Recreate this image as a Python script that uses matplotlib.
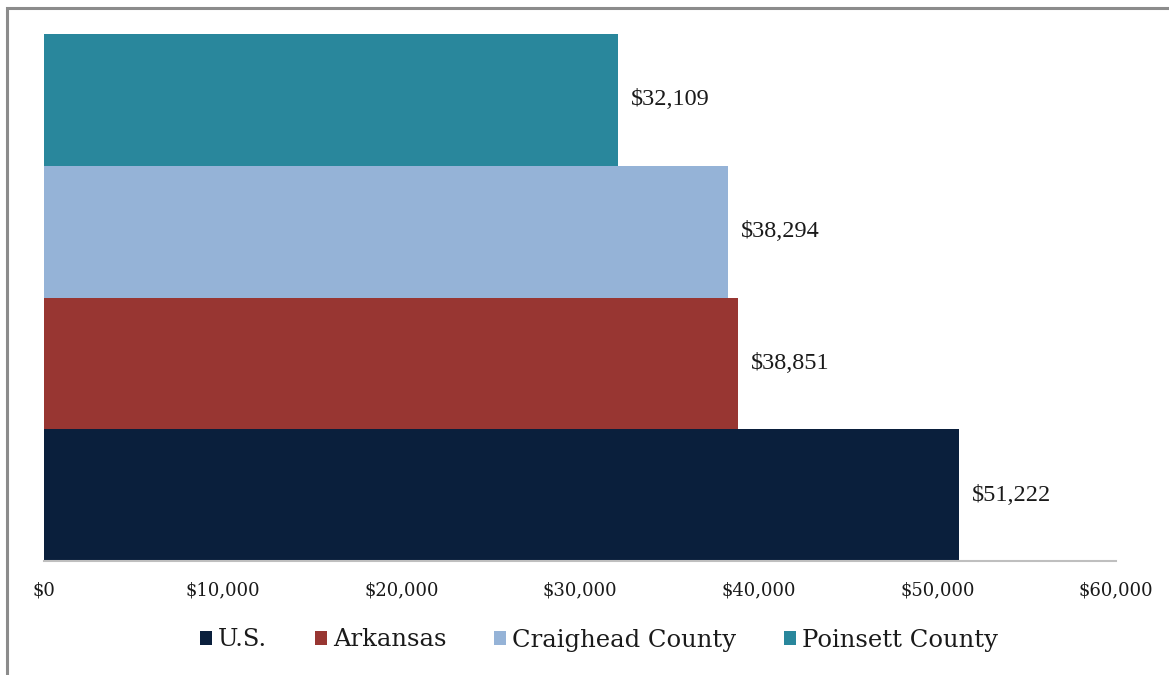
import matplotlib
matplotlib.use("Agg")
import matplotlib.pyplot as plt
from matplotlib.patches import Rectangle
from matplotlib.ticker import FuncFormatter

# Per capita income by area
areas = ["U.S.", "Arkansas", "Craighead County", "Poinsett County"]
incomes = [51222, 38851, 38294, 32109]
colors = ["#0a1f3c", "#983632", "#95b3d7", "#29879c"]
x_ticks = [0, 10000, 20000, 30000, 40000, 50000, 60000]

W, H = 1169, 675
fig = plt.figure(figsize=(W / 100, H / 100), dpi=100)

# Outer chart frame
fig.patches.append(Rectangle((7 / W, -0.1), 1.2, (H - 8) / H + 0.1,
                             transform=fig.transFigure, fill=False,
                             edgecolor="#8c8c8c", linewidth=2.2))

ax = fig.add_axes([44 / W, (H - 561) / H, (1116 - 44) / W, (561 - 34) / H])

for i, (name, val, col) in enumerate(zip(areas, incomes, colors)):
    ax.barh(i, val, height=1.0, color=col, label=name, linewidth=0)
    ax.text(val + 720, i, f"${val:,}", va="center", ha="left",
            fontsize=17.5, family="Liberation Serif", color="#1a1a1a")

ax.set_xlim(0, 60000)
ax.set_ylim(-0.5, 3.5)
ax.set_xticks(x_ticks)
ax.xaxis.set_major_formatter(FuncFormatter(lambda v, p: f"${v:,.0f}"))
ax.set_yticks([])
ax.tick_params(axis="x", length=0, pad=15, labelsize=13, labelcolor="#1a1a1a")
for lbl in ax.get_xticklabels():
    lbl.set_family("DejaVu Serif")
for s in ["top", "right", "left"]:
    ax.spines[s].set_visible(False)
ax.spines["bottom"].set_color("#bfbfbf")
ax.spines["bottom"].set_linewidth(1.5)

ax.legend(loc="center", bbox_to_anchor=(599 / W, (H - 640) / H),
          bbox_transform=fig.transFigure, ncol=4, frameon=False,
          prop={"family": "DejaVu Serif", "size": 17.5},
          labelcolor="#1a1a1a",
          handlelength=0.5, handleheight=0.5, handletextpad=0.25,
          columnspacing=1.95)

fig.savefig("out.png", dpi=100)
